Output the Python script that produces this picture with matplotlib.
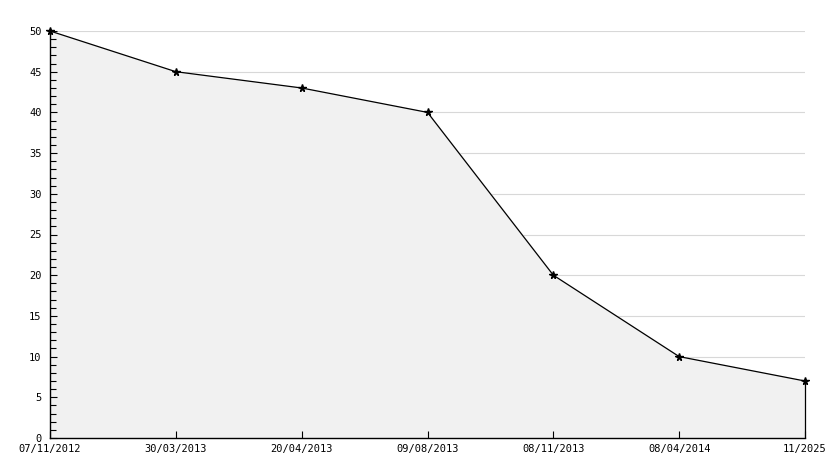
import matplotlib
matplotlib.use("Agg")
import matplotlib.pyplot as plt
from matplotlib.ticker import MultipleLocator

labels = ["07/11/2012", "30/03/2013", "20/04/2013", "09/08/2013", "08/11/2013", "08/04/2014", "11/2025"]
values = [50, 45, 43, 40, 20, 10, 7]

plt.rcParams['font.family'] = ['DejaVu Sans Mono', 'DejaVu Sans']
fig = plt.figure(figsize=(8.34, 4.68), dpi=100)
ax = fig.add_axes([50/834, 1-438/468, 755/834, 407/468])
x = list(range(len(values)))
ax.set_xlim(0, len(values)-1)
ax.set_ylim(0, 50)
ax.yaxis.set_major_locator(MultipleLocator(5))
ax.yaxis.set_minor_locator(MultipleLocator(1))
for yv in ax.get_yticks():
    if 0 < yv <= 50:
        ax.axhline(yv, color="#d8d8d8", lw=0.8, zorder=0.2)
ax.fill_between(x, values, 0, color="#f1f1f1", zorder=0.3)
ax.plot(x, values, color="black", lw=0.9, marker="*", ms=5.5, zorder=3, clip_on=False)
ax.vlines(x[-1], 0, values[-1], color="black", lw=0.9, zorder=3, clip_on=False)
ax.set_xticks(x)
ax.set_xticklabels(labels, fontsize=7.5)
ax.tick_params(axis="y", which="major", direction="in", length=5, labelsize=7.5, width=0.8, pad=6)
ax.tick_params(axis="y", which="minor", direction="in", length=4, width=0.8)
ax.tick_params(axis="x", direction="in", length=5, width=0.8, labelsize=7.5, pad=4)
for s in ["top", "right"]:
    ax.spines[s].set_visible(False)
for s in ["left", "bottom"]:
    ax.spines[s].set_linewidth(1.0)
fig.savefig("out.png", dpi=100)
